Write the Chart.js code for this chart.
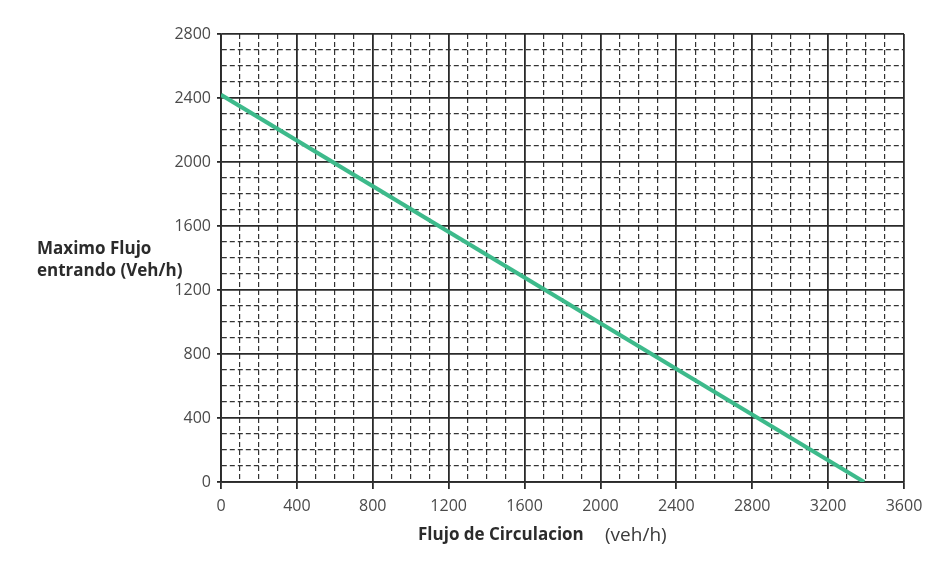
<!DOCTYPE html>
<html>
<head>
<meta charset="utf-8">
<script src="https://cdn.jsdelivr.net/npm/chart.js@4/dist/chart.umd.min.js"></script>
<style>
  html, body { margin: 0; padding: 0; background: #fff; }
  #wrap { position: relative; width: 948px; height: 570px; }
</style>
</head>
<body>
<div id="wrap"><canvas id="c" width="948" height="570"></canvas></div>
<script>
// Capacity line: maximum entering flow vs circulating flow
const flujoCirculacion = [0, 3390];
const flujoEntrando = [2420, 0];

// Axis ranges and spacing (major labelled every 400, minor grid every 100)
const xRange = [0, 3600];
const yRange = [0, 2800];
const majorStep = 400;
const minorStep = 100;

const yTitleLines = ['Maximo Flujo', 'entrando (Veh/h)'];
const xTitleMain = 'Flujo de Circulacion';
const xTitleUnit = '(veh/h)';

const points = flujoCirculacion.map((x, i) => ({ x, y: flujoEntrando[i] }));

const isMajor = v => Math.abs(v % majorStep) < 1e-6;

function gridFor(ctx) {
  return ctx.tick && isMajor(ctx.tick.value);
}

const scaleCommon = {
  type: 'linear',
  grid: {
    color: ctx => gridFor(ctx) ? '#2a2a2a' : '#333333',
    lineWidth: ctx => gridFor(ctx) ? 1.8 : 1.2,
    tickColor: ctx => gridFor(ctx) ? '#2a2a2a' : 'rgba(0,0,0,0)',
    tickWidth: 1.8
  },
  border: {
    display: true,
    color: '#2a2a2a',
    width: 1.8,
    dash: ctx => (!ctx.tick || isMajor(ctx.tick.value)) ? [] : [5, 3]
  },
  ticks: {
    stepSize: minorStep,
    autoSkip: false,
    maxRotation: 0,
    color: '#4a4a4a',
    font: { family: 'Open Sans', size: 16 },
    callback: v => isMajor(v) ? String(v) : ''
  }
};

const titles = {
  id: 'axisTitles',
  afterDraw(chart) {
    const { ctx } = chart;
    ctx.save();
    ctx.fillStyle = '#2b2b2b';
    ctx.textBaseline = 'middle';
    ctx.textAlign = 'left';
    ctx.font = 'bold 17px "Open Sans"';
    ctx.fillText(yTitleLines[0], 37, 249);
    ctx.fillText(yTitleLines[1], 37, 271);
    ctx.fillText(xTitleMain, 418, 535);
    ctx.font = '19px "Open Sans"';
    ctx.fillStyle = '#3a3a3a';
    ctx.fillText(xTitleUnit, 605, 536);
    ctx.restore();
  }
};

new Chart(document.getElementById('c'), {
  type: 'scatter',
  data: {
    datasets: [{
      data: points,
      showLine: true,
      borderColor: '#3dba8b',
      borderWidth: 4,
      pointRadius: 0,
      pointHoverRadius: 0,
      fill: false
    }]
  },
  options: {
    responsive: false,
    animation: false,
    devicePixelRatio: 1,
    layout: { padding: { left: 0, right: 44, top: 34, bottom: 0 } },
    plugins: { legend: { display: false }, tooltip: { enabled: false } },
    scales: {
      x: Object.assign({}, scaleCommon, {
        min: xRange[0], max: xRange[1],
        grid: Object.assign({}, scaleCommon.grid, { tickLength: 7 }),
        ticks: Object.assign({}, scaleCommon.ticks, { padding: 8 }),
        afterFit: s => { s.height = 88; }
      }),
      y: Object.assign({}, scaleCommon, {
        min: yRange[0], max: yRange[1],
        grid: Object.assign({}, scaleCommon.grid, { tickLength: 4 }),
        ticks: Object.assign({}, scaleCommon.ticks, { padding: 6 }),
        afterFit: s => { s.width = 221; }
      })
    }
  },
  plugins: [titles]
});
</script>
</body>
</html>
